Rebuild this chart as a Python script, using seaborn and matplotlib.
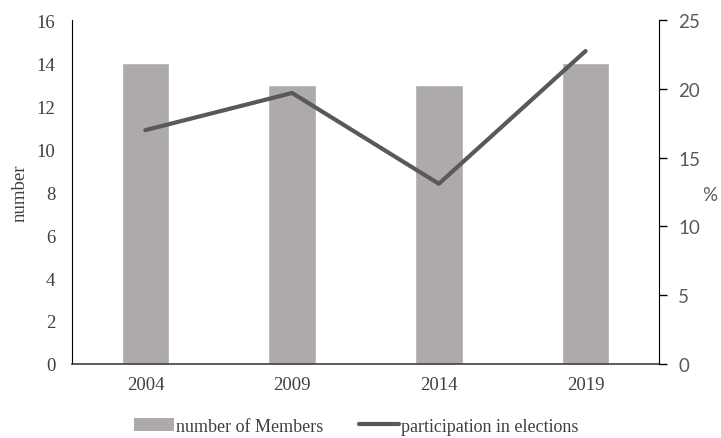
import matplotlib
matplotlib.use("Agg")
import matplotlib.pyplot as plt
import seaborn as sns
import pandas as pd
from matplotlib.patches import Patch
from matplotlib.lines import Line2D

years = ["2004", "2009", "2014", "2019"]
members = [14, 13, 13, 14]
participation = [17.0, 19.7, 13.1, 22.75]

bar_color = "#AEAAAA"
line_color = "#595959"

sns.set_style("white")
plt.rcParams["font.family"] = ["Liberation Serif", "DejaVu Serif"]

df = pd.DataFrame({"year": years, "members": members, "participation": participation})

fig = plt.figure(figsize=(7.21, 4.39), dpi=100)
ax = fig.add_axes([0.0999, 0.1686, 0.814, 0.7834])

sns.barplot(data=df, x="year", y="members", color=bar_color, width=0.325,
            saturation=1, ax=ax)
ax.set_ylim(0, 16)
ax.set_xlim(-0.5, 3.5)
ax.set_yticks(range(0, 17, 2))
ax.set_xlabel("")
ax.set_ylabel("number", fontsize=13.5, color="#404040", labelpad=6)
ax.tick_params(axis="both", length=0, labelsize=13.5, colors="#404040")
ax.tick_params(axis="y", pad=12)
ax.tick_params(axis="x", pad=9)
for side in ["top", "right"]:
    ax.spines[side].set_visible(False)
ax.spines["left"].set_color("black")
ax.spines["bottom"].set_color("#404040")
ax.spines["bottom"].set_linewidth(1.2)

ax2 = ax.twinx()
sns.lineplot(data=df, x="year", y="participation", color=line_color, linewidth=3,
             ax=ax2, sort=False)
ax2.set_ylim(0, 25)
ax2.set_yticks(range(0, 26, 5))
ax2.set_xlim(-0.5, 3.5)
ax2.set_xlabel("")
ax2.set_ylabel("")
for side in ["top", "left", "bottom"]:
    ax2.spines[side].set_visible(False)
ax2.spines["right"].set_visible(True)
ax2.spines["right"].set_color("black")
ax2.tick_params(axis="y", direction="out", length=6, width=1, colors="black",
                labelcolor="#595959", labelsize=13.5, pad=8)
for lab in ax2.get_yticklabels():
    lab.set_family("Lato")
fig.text(0.985, 0.555, "%", fontsize=13.5, family="Lato", color="#595959",
         ha="center", va="center")

handles = [Patch(facecolor=bar_color, edgecolor="none"),
           Line2D([0], [0], color=line_color, linewidth=3)]
fig.legend(handles, ["number of Members", "participation in elections"],
           loc="center", bbox_to_anchor=(0.494, 0.027), ncol=2, frameon=False,
           fontsize=13, handlelength=2.2, handleheight=0.7, handletextpad=0.1,
           columnspacing=2.0, labelcolor="#404040")

fig.savefig("out.png", dpi=100)
